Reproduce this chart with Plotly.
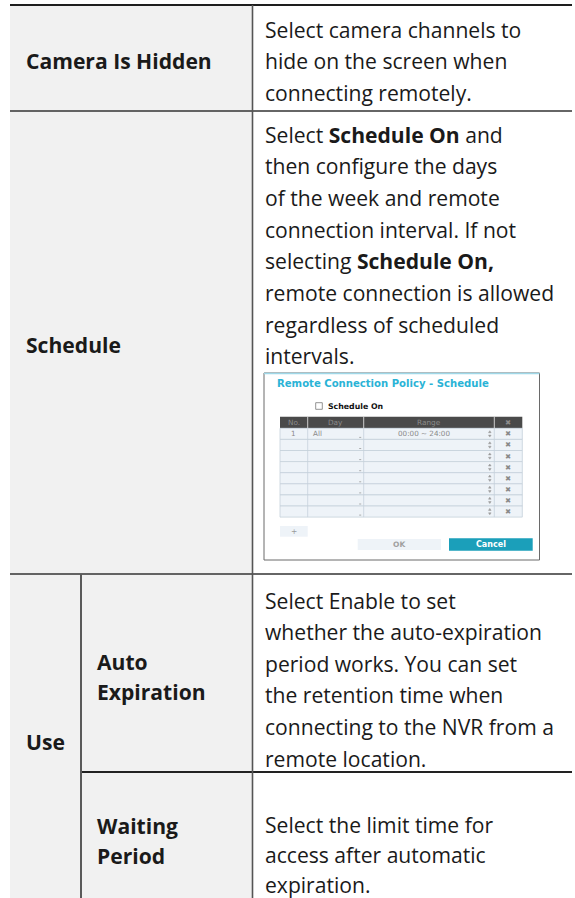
import plotly.graph_objects as go

W, H = 575, 898
FONT = "Open Sans"
DFONT = "DejaVu Sans"

# ---------------- data (text content) ----------------
row_labels = ["Camera Is Hidden", "Schedule", "Use"]
sub_labels = [["Auto", "Expiration"], ["Waiting", "Period"]]
desc_hidden = ["Select camera channels to", "hide on the screen when", "connecting remotely."]
desc_schedule = ["Select <b>Schedule On</b> and", "then configure the days",
                 "of the week and remote", "connection interval. If not",
                 "selecting <b>Schedule On,</b>", "remote connection is allowed",
                 "regardless of scheduled", "intervals."]
desc_auto = ["Select Enable to set", "whether the auto-expiration",
             "period works. You can set", "the retention time when",
             "connecting to the NVR from a", "remote location."]
desc_wait = ["Select the limit time for", "access after automatic", "expiration."]

dialog_title = "Remote Connection Policy - Schedule"
dialog_check = "Schedule On"
sched_headers = ["No.", "Day", "Range", "✖"]
sched_no = ["1", "", "", "", "", "", "", ""]
sched_day = ["All", "", "", "", "", "", "", ""]
sched_range = ["00:00 ~ 24:00", "", "", "", "", "", "", ""]
buttons = ["+", "OK", "Cancel"]

# ---------------- layout geometry ----------------
X0, X1 = 10, 572
XDIV, XSUB = 252.5, 81
Y_TOP, Y_R1, Y_R2, Y_SUB = 5, 111, 574, 772
TEXT_X = 263
FS = 21.1

shapes = []
ann = []

def rect(x0, y0, x1, y1, fill, line=None, lw=0):
    shapes.append(dict(type="rect", x0=x0, y0=y0, x1=x1, y1=y1, fillcolor=fill,
                       line=dict(color=line or fill, width=lw), layer="below"))

def hline(x0, x1, y, color, w):
    shapes.append(dict(type="line", x0=x0, x1=x1, y0=y, y1=y, line=dict(color=color, width=w)))

def vline(x, y0, y1, color, w):
    shapes.append(dict(type="line", x0=x, x1=x, y0=y0, y1=y1, line=dict(color=color, width=w)))

def path(d, color):
    shapes.append(dict(type="path", path=d, fillcolor=color, line=dict(color=color, width=0.5)))

def text(x, y, s, size=FS, color="#1a1a1a", xa="left", bold=False, family=FONT):
    ann.append(dict(x=x, y=y, xref="x", yref="y", text=("<b>%s</b>" % s) if bold else s,
                    showarrow=False, xanchor=xa, yanchor="middle",
                    font=dict(family=family, size=size, color=color)))

# backgrounds
rect(X0, Y_TOP, XDIV, H + 5, "#f1f1f1")

# grid lines
hline(X0, X1, Y_TOP, "#1e1e1e", 2.2)
hline(X0, X1, Y_R1, "#333333", 1.5)
hline(X0, X1, Y_R2, "#333333", 1.5)
hline(XSUB, X1, Y_SUB, "#222222", 1.8)
vline(XDIV, Y_TOP, H + 5, "#555555", 1.6)
vline(XSUB, Y_R2, H + 5, "#5a5a5a", 2)

# left labels
text(24, 60, row_labels[0], bold=True)
text(24, 344, row_labels[1], bold=True)
text(24, 741, row_labels[2], bold=True)
text(95, 661, sub_labels[0][0], bold=True)
text(95, 691, sub_labels[0][1], bold=True)
text(95, 825, sub_labels[1][0], bold=True)
text(95, 855, sub_labels[1][1], bold=True)

# descriptions
for start, ls, lines in [(29, 31.8, desc_hidden), (134, 31.7, desc_schedule),
                         (600, 31.6, desc_auto), (824, 30.2, desc_wait)]:
    for i, s in enumerate(lines):
        text(TEXT_X, start + i * ls, s)

# ---------------- embedded dialog screenshot ----------------
DX0, DY0, DX1, DY1 = 264, 373, 539.5, 560
rect(DX0, DY0, DX1, DY1, "#ffffff", "#6a6a6a", 1)
hline(DX0, DX1, DY0 + 0.5, "#9fd8e8", 1.5)
text(275, 383, dialog_title, size=10.1, color="#2ab3d6", bold=True, family=DFONT)
rect(315.7, 402.7, 322.3, 409.3, "#ffffff", "#777777", 0.8)
text(325.5, 406, dialog_check, size=7.8, color="#111111", bold=True, family=DFONT)

cols = [280, 307.7, 363.7, 494.3, 522.3]
HY0, HY1 = 416.7, 428.3
rect(cols[0], HY0, cols[-1], HY1, "#4a4a4a")
for j, h in enumerate(sched_headers):
    cx = (cols[j] + cols[j + 1]) / 2
    text(cx, (HY0 + HY1) / 2, h, size=7.3, color="#8c8c8c", xa="center", family=DFONT)
for j in range(1, 4):
    vline(cols[j], HY0, HY1, "#eeeeee", 0.8)

RH = 11.1
for i in range(len(sched_no)):
    y0 = HY1 + i * RH
    y1 = y0 + RH
    rect(cols[0], y0, cols[-1], y1, "#eef3f8", "#c5d0da", 0.8)
    for j in range(1, 4):
        vline(cols[j], y0, y1, "#c5d0da", 0.8)
    ym = (y0 + y1) / 2
    if sched_no[i]:
        text((cols[0] + cols[1]) / 2, ym, sched_no[i], size=7.2, color="#8a8a8a", xa="center", family=DFONT)
    if sched_day[i]:
        text(cols[1] + 3, ym, sched_day[i], size=7.2, color="#8a8a8a", family=DFONT)
    if sched_range[i]:
        text(424, ym, sched_range[i], size=7.2, color="#8a8a8a", xa="center", family=DFONT)
    # dropdown tick and spinner arrows (small marks)
    hline(cols[2] - 4.5, cols[2] - 2.5, y1 - 2, "#999999", 0.8)
    sx = cols[3] - 4.5
    path("M %.1f %.1f L %.1f %.1f L %.1f %.1f Z" % (sx - 1.3, ym - 1.2, sx + 1.3, ym - 1.2, sx, ym - 3.2), "#9a9a9a")
    path("M %.1f %.1f L %.1f %.1f L %.1f %.1f Z" % (sx - 1.3, ym + 1.2, sx + 1.3, ym + 1.2, sx, ym + 3.2), "#9a9a9a")
    text((cols[3] + cols[4]) / 2, ym, "✖", size=7.3, color="#8a8a8a", xa="center", family=DFONT)

rect(280, 526, 307.7, 536.7, "#eef3f8")
text(293.8, 531.3, buttons[0], size=7.5, color="#9a9a9a", xa="center", family=DFONT)
rect(357.7, 539, 441, 550, "#eef3f8")
text(399.3, 544.5, buttons[1], size=7.5, color="#a0a0a0", xa="center", bold=True, family=DFONT)
rect(449, 538.3, 532.7, 550.7, "#1b9fba")
text(490.8, 544.5, buttons[2], size=8, color="#ffffff", xa="center", bold=True, family=DFONT)

fig = go.Figure()
fig.update_layout(
    width=W, height=H, margin=dict(l=0, r=0, t=0, b=0),
    paper_bgcolor="#ffffff", plot_bgcolor="#ffffff",
    xaxis=dict(range=[0, W], visible=False, fixedrange=True),
    yaxis=dict(range=[H, 0], visible=False, fixedrange=True),
    shapes=shapes, annotations=ann, showlegend=False,
)
fig.write_html("out.html", config={"displayModeBar": False},
               post_script="document.body.style.margin='0';document.body.style.overflow='hidden';")
